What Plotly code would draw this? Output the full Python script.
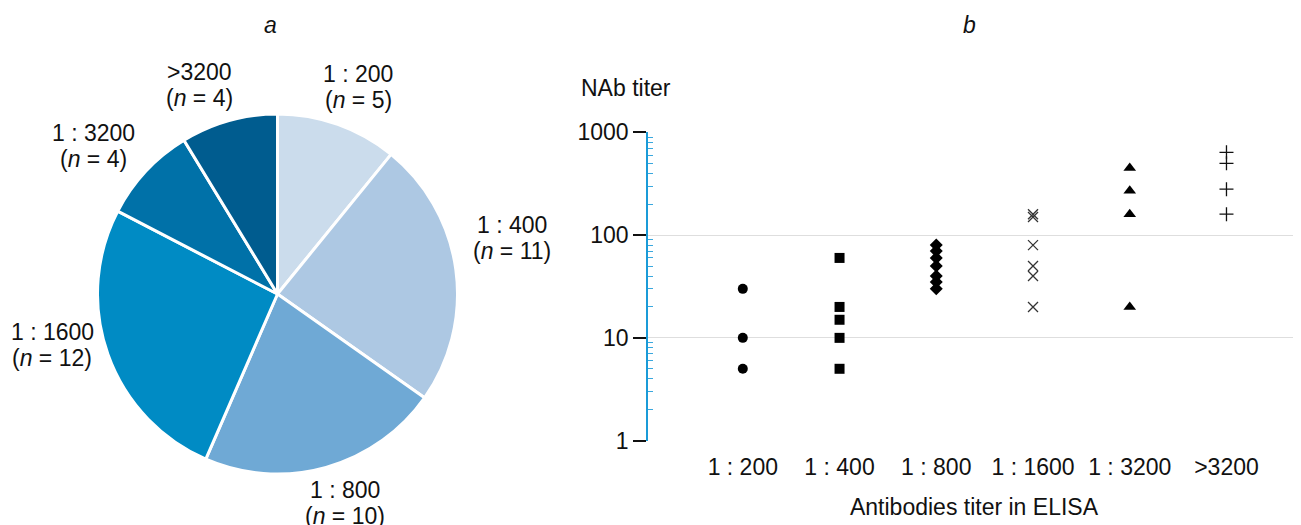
import plotly.graph_objects as go

# ---- Data ----
pie_labels = ["1 : 200", "1 : 400", "1 : 800", "1 : 1600", "1 : 3200", ">3200"]
pie_counts = [5, 11, 10, 12, 4, 4]
pie_colors = ["#cbdcec", "#adc8e3", "#6fa9d5", "#008bc4", "#0071a8", "#005c8f"]

categories = ["1 : 200", "1 : 400", "1 : 800", "1 : 1600", "1 : 3200", ">3200"]
titer_200 = [30, 10, 5]
titer_400 = [60, 20, 15, 10, 5]
titer_800 = [80, 70, 60, 50, 40, 35, 30]
titer_1600 = [160, 150, 80, 50, 40, 20]
titer_3200 = [450, 270, 160, 20]
titer_gt3200 = [640, 500, 280, 160]
series_values = [titer_200, titer_400, titer_800, titer_1600, titer_3200, titer_gt3200]
series_symbols = ["circle", "square", "diamond", "x-thin-open", "triangle-up", "cross-thin-open"]
series_colors = ["#000000", "#000000", "#000000", "#333333", "#000000", "#111111"]
series_sizes = [10, 10, 10, 10, 11, 10]

FONT = "Liberation Sans, Arial, sans-serif"
FS = 23
W, H = 1301, 525
OFF = 8  # page body margin offset compensation

def px_x(x):
    return (x - OFF) / W

def px_y(y):
    return 1 - (y - OFF) / H

fig = go.Figure()

fig.add_trace(go.Pie(
    labels=pie_labels, values=pie_counts, sort=False, direction="clockwise",
    rotation=0, marker=dict(colors=pie_colors, line=dict(color="white", width=3)),
    textinfo="none", hoverinfo="label+value", showlegend=False,
    domain=dict(x=[px_x(97), px_x(458)], y=[px_y(474), px_y(114)]),
))

for cat, vals, sym, col, sz in zip(categories, series_values, series_symbols, series_colors, series_sizes):
    fig.add_trace(go.Scatter(
        x=[cat] * len(vals), y=vals, mode="markers", showlegend=False,
        marker=dict(symbol=sym, color=col, size=sz,
                    line=dict(color=col, width=1.3) if "thin" in sym else dict(width=0)),
        xaxis="x", yaxis="y", cliponaxis=False,
    ))

fig.update_layout(
    width=W, height=H,
    margin=dict(l=0, r=0, t=0, b=0, autoexpand=False),
    paper_bgcolor="white", plot_bgcolor="white",
    font=dict(family=FONT, size=FS, color="#111111"),
    xaxis=dict(
        domain=[px_x(648), px_x(1300)], type="category", categoryorder="array",
        categoryarray=categories, range=[-0.98, 5.76], automargin=False,
        showgrid=False, zeroline=False, showline=False,
        ticks="outside", ticklen=5, tickcolor="rgba(0,0,0,0)",
        tickfont=dict(size=FS), fixedrange=True,
        title=dict(text="Antibodies titer in ELISA", font=dict(size=FS), standoff=20),
    ),
    yaxis=dict(
        domain=[px_y(441), px_y(132)], type="log", range=[-0.004, 3.004], automargin=False,
        tickvals=[1, 10, 100, 1000], ticktext=["1", "10", "100", "1000"],
        showgrid=True, gridcolor="#dedede", gridwidth=1,
        showline=True, linecolor="#1a9bd8", linewidth=1.5,
        ticks="outside", ticklen=13, tickcolor="#111111", tickwidth=2,
        tickfont=dict(size=FS),
        minor=dict(ticks="inside", ticklen=5, tickcolor="#3aa8de", tickwidth=1,
                   tickvals=[m * 10 ** e for e in range(3) for m in range(2, 10)],
                   showgrid=False),
        zeroline=False,
    ),
)

ann = []
def add_text(text, xpx, ypx, xanchor="center", italic=False):
    ann.append(dict(x=px_x(xpx), y=px_y(ypx), xref="paper", yref="paper", showarrow=False,
                    xanchor=xanchor, yanchor="middle",
                    text=f"<i>{text}</i>" if italic else text,
                    font=dict(size=FS, family=FONT, color="#111111")))

pie_label_pos = [(358, 87), (512, 238), (345, 503), (52, 345), (93, 146), (200, 85)]
for lab, n, (px, py) in zip(pie_labels, pie_counts, pie_label_pos):
    add_text(lab, px, py - 13)
    add_text(f"(<i>n</i> = {n})", px, py + 13)

add_text("a", 270, 25, italic=True)
add_text("b", 970, 25, italic=True)
add_text("NAb titer", 579, 88, xanchor="left")

fig.update_layout(annotations=ann)
fig.write_html("out.html")
